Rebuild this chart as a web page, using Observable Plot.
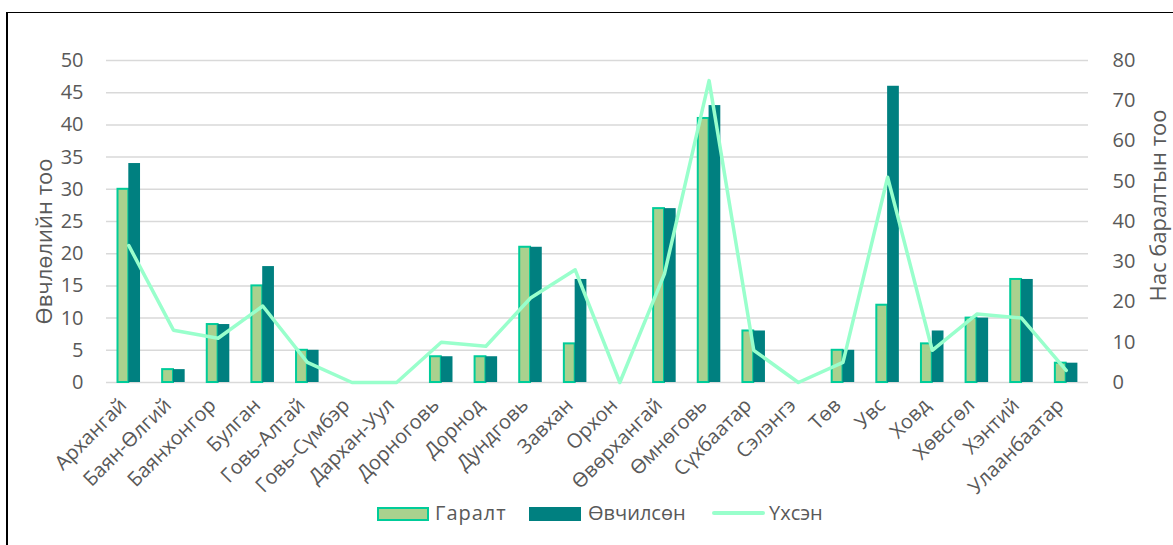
<!DOCTYPE html>
<html><head><meta charset="utf-8">
<script src="https://cdn.jsdelivr.net/npm/d3@7"></script>
<script src="https://cdn.jsdelivr.net/npm/@observablehq/plot@0.6"></script>
<style>
body{margin:0;background:#fff;font-family:"Open Sans",sans-serif;}
#wrap{position:relative;width:1173px;height:545px;overflow:hidden;background:#fff;}
#frame{position:absolute;left:6px;top:12px;width:1300px;height:700px;border-left:2px solid #000;border-top:1.5px solid #000;}
#chart{position:absolute;left:0;top:0;}
.lg{position:absolute;font-size:20px;color:#595959;line-height:20px;white-space:nowrap;}
.sw{position:absolute;box-sizing:border-box;}
</style></head>
<body>
<div id="wrap">
  <div id="frame"></div>
  <div id="chart"></div>
  <div class="sw" style="left:377px;top:507px;width:52px;height:14px;background:#A9D18E;border:2px solid #00CC99;"></div>
  <div class="lg" style="left:435px;top:503px;letter-spacing:1px;">Гаралт</div>
  <div class="sw" style="left:529px;top:507px;width:52px;height:14px;background:#008080;"></div>
  <div class="lg" style="left:588px;top:503px;">Өвчилсөн</div>
  <div class="sw" style="left:712px;top:511px;width:53px;height:4px;background:#99FFCC;border-radius:2px;"></div>
  <div class="lg" style="left:769px;top:503px;">Үхсэн</div>
</div>
<script>
const categories = ["Архангай","Баян-Өлгий","Баянхонгор","Булган","Говь-Алтай","Говь-Сүмбэр","Дархан-Уул","Дорноговь","Дорнод","Дундговь","Завхан","Орхон","Өвөрхангай","Өмнөговь","Сүхбаатар","Сэлэнгэ","Төв","Увс","Ховд","Хөвсгөл","Хэнтий","Улаанбаатар"];
const garalt    = [30, 2, 9, 15, 5, 0, 0, 4, 4, 21, 6, 0, 27, 41, 8, 0, 5, 12, 6, 10, 16, 3];
const ovchilson = [34, 2, 9, 18, 5, 0, 0, 4, 4, 21, 16, 0, 27, 43, 8, 0, 5, 46, 8, 10, 16, 3];
const uhsen     = [34, 13, 11, 19, 5, 0, 0, 10, 9, 21, 28, 0, 27, 75, 8, 0, 5, 51, 8, 17, 16, 3];
const leftTicks  = [0, 5, 10, 15, 20, 25, 30, 35, 40, 45, 50];
const rightTicks = [0, 10, 20, 30, 40, 50, 60, 70, 80];
const leftTitle = "Өвчлөлийн тоо";
const rightTitle = "Нас баралтын тоо";

const k = 50 / 80;
const rows = categories.map((c, i) => ({c, g: garalt[i], o: ovchilson[i], u: uhsen[i]}));
const H = 545;
const chart = Plot.plot({
  width: 1173, height: H,
  marginTop: 60, marginBottom: H - 382, marginLeft: 106, marginRight: 85,
  x: {domain: categories, type: "band", padding: 0, round: false, axis: null},
  y: {domain: [0, 50], axis: null},
  style: {fontFamily: "'Open Sans', sans-serif", fontSize: "20px", color: "#595959", background: "transparent"},
  marks: [
    Plot.ruleY(leftTicks, {stroke: "#D9D9D9", strokeWidth: 1.5}),
    Plot.barY(rows.filter(d => d.g > 0), {x: "c", y: "g", fill: "#A9D18E", stroke: "#00CC99", strokeWidth: 2, insetLeft: 11.5, insetRight: 22.3}),
    Plot.barY(rows.filter(d => d.o > 0), {x: "c", y: "o", fill: "#008080", insetLeft: 22.3, insetRight: 10.6}),
    Plot.line(rows, {x: "c", y: d => d.u * k, stroke: "#99FFCC", strokeWidth: 3.5}),
    Plot.axisY({ticks: leftTicks, anchor: "left", tickSize: 0, tickPadding: 23, label: null, fontSize: 20}),
    Plot.axisY({ticks: rightTicks.map(v => v * k), tickFormat: v => String(Math.round(v / k)), anchor: "right", tickSize: 0, tickPadding: 24, label: null, fontSize: 20}),
    Plot.text(categories, {x: d => d, frameAnchor: "bottom", rotate: -45, textAnchor: "end", dy: 24, dx: -1, fontSize: 20, fill: "#595959", style: {letterSpacing: "1.2px"}}),
    Plot.text([leftTitle], {frameAnchor: "left", textAnchor: "middle", rotate: -90, dx: -62, dy: 20, fontSize: 22, fill: "#595959"}),
    Plot.text([rightTitle], {frameAnchor: "right", textAnchor: "middle", rotate: -90, dx: 70, dy: -16, fontSize: 22, fill: "#595959"})
  ]
});
document.getElementById("chart").appendChild(chart);
</script>
</body></html>
